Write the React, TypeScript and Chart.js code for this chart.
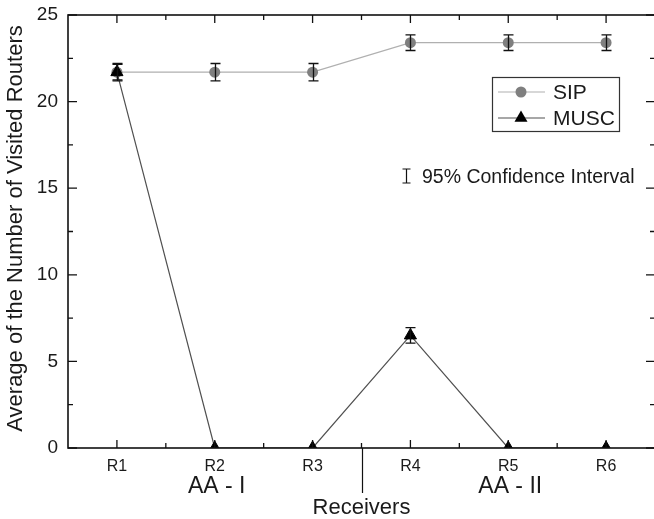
import React, { useEffect, useRef } from "react";
import { Chart, registerables } from "chart.js";

Chart.register(...registerables);

// ---- data ----
const receivers = ["R1", "R2", "R3", "R4", "R5", "R6"];
const sipValues = [21.7, 21.7, 21.7, 23.4, 23.4, 23.4];
const sipErrors = [0.5, 0.5, 0.5, 0.45, 0.45, 0.45];
const muscValues = [21.7, 0, 0, 6.5, 0, 0];
const muscErrors = [0.45, 0, 0, 0.45, 0, 0];
const yTickValues = [0, 5, 10, 15, 20, 25];
const groupLabels = ["AA - I", "AA - II"];
const groupSizes = [3, 3];
const seriesNames = ["SIP", "MUSC"];
const yTitle = "Average of the Number of Visited Routers";
const xTitle = "Receivers";
const ciNote = "95% Confidence Interval";

const FONT = '"Liberation Sans", Arial, Helvetica, sans-serif';
const TEXT = "#1a1a1a";
const SIP_LINE = "#b0b0b0";
const SIP_MARK = "#7f7f7f";
const MUSC_LINE = "#505050";
const MUSC_MARK = "#000000";

const errorSets = [sipErrors, muscErrors];
const valueSets = [sipValues, muscValues];

function drawMarker(ctx: CanvasRenderingContext2D, style: string, r: number, cx: number, cy: number) {
  ctx.beginPath();
  if (style === "circle") {
    ctx.arc(cx, cy, r, 0, Math.PI * 2);
  } else {
    for (let a = 0; a < 3; a++) {
      const rad = (a * 2 * Math.PI) / 3;
      const px = cx + Math.sin(rad) * r;
      const py = cy - Math.cos(rad) * r;
      if (a === 0) ctx.moveTo(px, py);
      else ctx.lineTo(px, py);
    }
    ctx.closePath();
  }
  ctx.fill();
}

const decorPlugin = {
  id: "decor",
  beforeDraw(chart: any) {
    const ctx = chart.ctx;
    ctx.save();
    ctx.fillStyle = "#ffffff";
    ctx.fillRect(0, 0, chart.width, chart.height);
    ctx.restore();
  },
  afterDatasetsDraw(chart: any) {
    const ctx = chart.ctx;
    const xs = chart.scales.x;
    const ys = chart.scales.y;
    const { left, right, top, bottom } = chart.chartArea;
    ctx.save();
    ctx.beginPath();
    ctx.rect(left, top, right - left, bottom - top);
    ctx.clip();
    ctx.strokeStyle = "#111";
    ctx.lineWidth = 1.3;
    valueSets.forEach((vals, s) => {
      const errs = errorSets[s];
      vals.forEach((v, i) => {
        const e = errs[i];
        if (!e) return;
        const px = Math.round(xs.getPixelForValue(i + 1)) + 0.5;
        const y1 = ys.getPixelForValue(v + e);
        const y2 = ys.getPixelForValue(v - e);
        ctx.beginPath();
        ctx.moveTo(px, y1);
        ctx.lineTo(px, y2);
        ctx.moveTo(px - 5, y1);
        ctx.lineTo(px + 5, y1);
        ctx.moveTo(px - 5, y2);
        ctx.lineTo(px + 5, y2);
        ctx.stroke();
      });
    });
    ctx.restore();
  },
  afterDraw(chart: any) {
    const ctx = chart.ctx;
    const xs = chart.scales.x;
    const ys = chart.scales.y;
    const { left, right, top, bottom } = chart.chartArea;
    ctx.save();
    // frame
    ctx.strokeStyle = "#111";
    ctx.lineWidth = 1.6;
    ctx.strokeRect(left, top, right - left, bottom - top);

    // tick marks (inward on all four sides)
    ctx.lineWidth = 1.3;
    ctx.beginPath();
    for (let i = 0; i < receivers.length; i++) {
      const px = xs.getPixelForValue(i + 1);
      ctx.moveTo(px, bottom);
      ctx.lineTo(px, bottom - 8);
      ctx.moveTo(px, top);
      ctx.lineTo(px, top + 8);
      if (i < receivers.length - 1) {
        const pm = xs.getPixelForValue(i + 1.5);
        ctx.moveTo(pm, bottom);
        ctx.lineTo(pm, bottom - 5);
        ctx.moveTo(pm, top);
        ctx.lineTo(pm, top + 5);
      }
    }
    for (let k = 0; k < yTickValues.length; k++) {
      const t = yTickValues[k];
      const py = ys.getPixelForValue(t);
      ctx.moveTo(left, py);
      ctx.lineTo(left + 9, py);
      ctx.moveTo(right, py);
      ctx.lineTo(right - 9, py);
      if (k < yTickValues.length - 1) {
        const pm = ys.getPixelForValue((t + yTickValues[k + 1]) / 2);
        ctx.moveTo(left, pm);
        ctx.lineTo(left + 5, pm);
        ctx.moveTo(right, pm);
        ctx.lineTo(right - 5, pm);
      }
    }
    ctx.stroke();

    // tick labels
    ctx.fillStyle = TEXT;
    ctx.font = `19px ${FONT}`;
    ctx.textAlign = "right";
    ctx.textBaseline = "middle";
    yTickValues.forEach((t) => {
      ctx.fillText(String(t), left - 10, ys.getPixelForValue(t));
    });
    ctx.font = `16px ${FONT}`;
    ctx.textAlign = "center";
    receivers.forEach((r, i) => {
      ctx.fillText(r, xs.getPixelForValue(i + 1), bottom + 19);
    });

    // axis titles
    ctx.font = `22px ${FONT}`;
    ctx.textAlign = "center";
    ctx.textBaseline = "alphabetic";
    ctx.fillText(xTitle, (left + right) / 2, bottom + 66);
    ctx.save();
    ctx.translate(16, (top + bottom) / 2 - 3);
    ctx.rotate(-Math.PI / 2);
    ctx.textBaseline = "middle";
    ctx.fillText(yTitle, 0, 0);
    ctx.restore();

    // group divider and group labels
    let start = 1;
    ctx.fillStyle = TEXT;
    ctx.strokeStyle = "#111";
    ctx.font = `23px ${FONT}`;
    ctx.textAlign = "center";
    ctx.textBaseline = "alphabetic";
    groupLabels.forEach((lab, g) => {
      const size = groupSizes[g];
      const center = start + (size - 1) / 2;
      ctx.fillText(lab, xs.getPixelForValue(center) + 2, bottom + 45);
      if (g < groupLabels.length - 1) {
        const dx = Math.round(xs.getPixelForValue(start + size - 0.5)) + 0.5;
        ctx.beginPath();
        ctx.lineWidth = 1.2;
        ctx.moveTo(dx, bottom);
        ctx.lineTo(dx, bottom + 45);
        ctx.stroke();
      }
      start += size;
    });

    // legend box
    const bx = right - 163;
    const by = top + 62;
    const bw = 127;
    const bh = 54;
    ctx.lineWidth = 1.2;
    ctx.strokeStyle = "#333";
    ctx.strokeRect(bx + 0.5, by + 0.5, bw, bh);
    const rows = [
      { name: seriesNames[0], line: SIP_LINE, mark: SIP_MARK, style: "circle", r: 5.5 },
      { name: seriesNames[1], line: MUSC_LINE, mark: MUSC_MARK, style: "triangle", r: 7.5 },
    ];
    rows.forEach((row, i) => {
      const ry = by + 15 + i * 26;
      ctx.beginPath();
      ctx.strokeStyle = row.line;
      ctx.lineWidth = 1.2;
      ctx.moveTo(bx + 6, ry);
      ctx.lineTo(bx + 53, ry);
      ctx.stroke();
      ctx.fillStyle = row.mark;
      drawMarker(ctx, row.style, row.r, bx + 29, ry);
      ctx.fillStyle = TEXT;
      ctx.font = `21px ${FONT}`;
      ctx.textAlign = "left";
      ctx.textBaseline = "middle";
      ctx.fillText(row.name, bx + 61, ry + 1);
    });

    // confidence interval note
    const ix = 406.5;
    const iy1 = 169;
    const iy2 = 183;
    ctx.beginPath();
    ctx.strokeStyle = "#111";
    ctx.lineWidth = 1.2;
    ctx.moveTo(ix, iy1);
    ctx.lineTo(ix, iy2);
    ctx.moveTo(ix - 4, iy1);
    ctx.lineTo(ix + 4, iy1);
    ctx.moveTo(ix - 4, iy2);
    ctx.lineTo(ix + 4, iy2);
    ctx.stroke();
    ctx.fillStyle = TEXT;
    ctx.font = `19.5px ${FONT}`;
    ctx.textAlign = "left";
    ctx.textBaseline = "alphabetic";
    ctx.fillText(ciNote, 422, 183);
    ctx.restore();
  },
};

export default function App() {
  const ref = useRef<HTMLCanvasElement | null>(null);
  useEffect(() => {
    document.body.style.margin = "0";
    const canvas = ref.current;
    if (!canvas) return;
    const chart = new Chart(canvas, {
      type: "line",
      data: {
        datasets: [
          {
            label: seriesNames[0],
            data: sipValues.map((v, i) => ({ x: i + 1, y: v })),
            borderColor: SIP_LINE,
            borderWidth: 1.2,
            pointStyle: "circle",
            pointRadius: 5.5,
            pointBackgroundColor: SIP_MARK,
            pointBorderColor: SIP_MARK,
            pointBorderWidth: 0,
            order: 2,
            clip: 0,
          },
          {
            label: seriesNames[1],
            data: muscValues.map((v, i) => ({ x: i + 1, y: v })),
            borderColor: MUSC_LINE,
            borderWidth: 1.2,
            pointStyle: "triangle",
            pointRadius: 7,
            pointBackgroundColor: MUSC_MARK,
            pointBorderColor: MUSC_MARK,
            pointBorderWidth: 1,
            order: 1,
            clip: 0,
          },
        ],
      } as any,
      options: {
        responsive: false,
        animation: false,
        devicePixelRatio: 1,
        layout: { autoPadding: false, padding: { top: 15, right: 2, left: 68, bottom: 71 } },
        plugins: { legend: { display: false }, tooltip: { enabled: false } },
        elements: { line: { tension: 0 } },
        scales: {
          x: {
            type: "linear",
            display: false,
            min: 0.5,
            max: receivers.length + 0.5,
            ticks: { display: false },
          },
          y: {
            type: "linear",
            display: false,
            min: 0,
            max: 25,
            ticks: { display: false },
          },
        },
      } as any,
      plugins: [decorPlugin],
    });
    return () => chart.destroy();
  }, []);

  return (
    <div
      style={{
        position: "fixed",
        left: 0,
        top: 0,
        width: 654,
        height: 519,
        overflow: "hidden",
        background: "#fff",
      }}
    >
      <canvas
        ref={ref}
        width={657}
        height={519}
        style={{ display: "block", width: 657, height: 519 }}
      />
    </div>
  );
}
